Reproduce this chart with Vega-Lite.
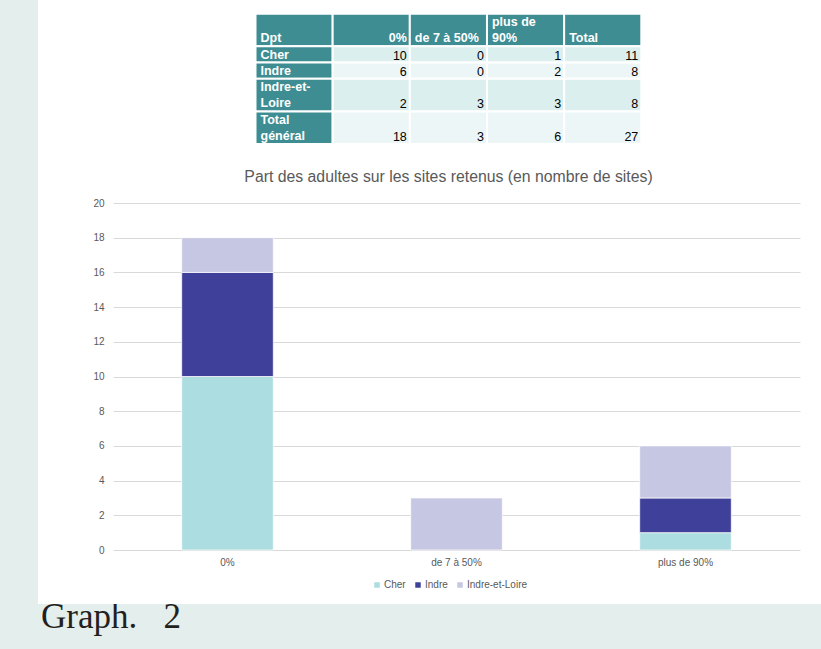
{
  "$schema": "https://vega.github.io/schema/vega-lite/v6.json",
  "background": "white",
  "padding": 0,
  "config": {
    "font": "Liberation Sans",
    "view": {"stroke": null}
  },
  "datasets": {
    "tableau": [
      {"ligne": "Dpt", "ordre": 0, "debut": 0, "fin": 2, "colonne": "Dpt", "type": "entete", "texte": "Dpt"},
      {"ligne": "Dpt", "ordre": 0, "debut": 0, "fin": 2, "colonne": "0%", "type": "entete", "texte": "0%"},
      {"ligne": "Dpt", "ordre": 0, "debut": 0, "fin": 2, "colonne": "de 7 à 50%", "type": "entete", "texte": "de 7 à 50%"},
      {"ligne": "Dpt", "ordre": 0, "debut": 0, "fin": 2, "colonne": "plus de 90%", "type": "entete", "texte": "plus de\n90%"},
      {"ligne": "Dpt", "ordre": 0, "debut": 0, "fin": 2, "colonne": "Total", "type": "entete", "texte": "Total"},
      {"ligne": "Cher", "ordre": 1, "debut": 2, "fin": 3, "colonne": "Dpt", "type": "libelle", "texte": "Cher"},
      {"ligne": "Cher", "ordre": 1, "debut": 2, "fin": 3, "colonne": "0%", "type": "valeur", "texte": "10"},
      {"ligne": "Cher", "ordre": 1, "debut": 2, "fin": 3, "colonne": "de 7 à 50%", "type": "valeur", "texte": "0"},
      {"ligne": "Cher", "ordre": 1, "debut": 2, "fin": 3, "colonne": "plus de 90%", "type": "valeur", "texte": "1"},
      {"ligne": "Cher", "ordre": 1, "debut": 2, "fin": 3, "colonne": "Total", "type": "valeur", "texte": "11"},
      {"ligne": "Indre", "ordre": 2, "debut": 3, "fin": 4, "colonne": "Dpt", "type": "libelle", "texte": "Indre"},
      {"ligne": "Indre", "ordre": 2, "debut": 3, "fin": 4, "colonne": "0%", "type": "valeur", "texte": "6"},
      {"ligne": "Indre", "ordre": 2, "debut": 3, "fin": 4, "colonne": "de 7 à 50%", "type": "valeur", "texte": "0"},
      {"ligne": "Indre", "ordre": 2, "debut": 3, "fin": 4, "colonne": "plus de 90%", "type": "valeur", "texte": "2"},
      {"ligne": "Indre", "ordre": 2, "debut": 3, "fin": 4, "colonne": "Total", "type": "valeur", "texte": "8"},
      {"ligne": "Indre-et-Loire", "ordre": 3, "debut": 4, "fin": 6, "colonne": "Dpt", "type": "libelle", "texte": "Indre-et-\nLoire"},
      {"ligne": "Indre-et-Loire", "ordre": 3, "debut": 4, "fin": 6, "colonne": "0%", "type": "valeur", "texte": "2"},
      {"ligne": "Indre-et-Loire", "ordre": 3, "debut": 4, "fin": 6, "colonne": "de 7 à 50%", "type": "valeur", "texte": "3"},
      {"ligne": "Indre-et-Loire", "ordre": 3, "debut": 4, "fin": 6, "colonne": "plus de 90%", "type": "valeur", "texte": "3"},
      {"ligne": "Indre-et-Loire", "ordre": 3, "debut": 4, "fin": 6, "colonne": "Total", "type": "valeur", "texte": "8"},
      {"ligne": "Total général", "ordre": 4, "debut": 6, "fin": 8, "colonne": "Dpt", "type": "libelle", "texte": "Total\ngénéral"},
      {"ligne": "Total général", "ordre": 4, "debut": 6, "fin": 8, "colonne": "0%", "type": "valeur", "texte": "18"},
      {"ligne": "Total général", "ordre": 4, "debut": 6, "fin": 8, "colonne": "de 7 à 50%", "type": "valeur", "texte": "3"},
      {"ligne": "Total général", "ordre": 4, "debut": 6, "fin": 8, "colonne": "plus de 90%", "type": "valeur", "texte": "6"},
      {"ligne": "Total général", "ordre": 4, "debut": 6, "fin": 8, "colonne": "Total", "type": "valeur", "texte": "27"}
    ],
    "sites": [
      {"part": "0%", "dpt": "Cher", "n": 10},
      {"part": "0%", "dpt": "Indre", "n": 6},
      {"part": "0%", "dpt": "Indre-et-Loire", "n": 2},
      {"part": "de 7 à 50%", "dpt": "Cher", "n": 0},
      {"part": "de 7 à 50%", "dpt": "Indre", "n": 0},
      {"part": "de 7 à 50%", "dpt": "Indre-et-Loire", "n": 3},
      {"part": "plus de 90%", "dpt": "Cher", "n": 1},
      {"part": "plus de 90%", "dpt": "Indre", "n": 2},
      {"part": "plus de 90%", "dpt": "Indre-et-Loire", "n": 3}
    ]
  },
  "spacing": 0,
  "resolve": {"legend": {"color": "independent"}},
  "vconcat": [
    {
      "spacing": 54,
      "resolve": {"legend": {"color": "independent"}},
      "hconcat": [
        {
          "width": 38,
          "height": 604,
          "view": {"fill": "#e4eeec", "stroke": null},
          "data": {"values": [{"vide": "."}]},
          "mark": {"type": "text", "opacity": 0},
          "encoding": {"text": {"field": "vide", "type": "nominal"}}
        },
        {
          "bounds": "flush",
          "center": true,
          "spacing": 59,
          "resolve": {"legend": {"color": "independent"}},
          "vconcat": [
            {
              "width": 402,
              "height": 144,
              "data": {"name": "tableau"},
              "layer": [
                {
                  "mark": {"type": "rect", "stroke": "white", "strokeWidth": 2},
                  "encoding": {
                    "x": {"field": "colonne", "type": "nominal", "scale": {"domain": ["Dpt", "0%", "de 7 à 50%", "plus de 90%", "Total"], "paddingInner": 0, "paddingOuter": 0.105, "align": 0}, "axis": null},
                    "y": {"field": "debut", "type": "quantitative", "scale": {"domain": [-0.84, 8], "reverse": true, "nice": false, "zero": false}, "axis": null},
                    "y2": {"field": "fin"},
                    "fill": {"condition": [{"test": "datum.type != 'valeur'", "value": "#3e8d92"}, {"test": "datum.ordre % 2 == 1", "value": "#dcefef"}], "value": "#edf6f6"}
                  }
                },
                {
                  "transform": [{"filter": "(datum.type == 'entete' && datum.colonne != '0%' && datum.colonne != 'plus de 90%') || (datum.type == 'libelle' && datum.fin - datum.debut == 1)"}],
                  "mark": {"type": "text", "align": "left", "baseline": "bottom", "dx": 5, "dy": -1, "fontSize": 12.5, "fontWeight": "bold", "color": "white"},
                  "encoding": {
                    "x": {"field": "colonne", "type": "nominal", "bandPosition": 0, "axis": null},
                    "y": {"field": "fin", "type": "quantitative", "axis": null},
                    "text": {"field": "texte", "type": "nominal"}
                  }
                },
                {
                  "transform": [{"filter": "(datum.type == 'entete' && datum.colonne == 'plus de 90%') || (datum.type == 'libelle' && datum.fin - datum.debut == 2)"}],
                  "mark": {"type": "text", "align": "left", "baseline": "bottom", "dx": 5, "dy": -17, "fontSize": 12.5, "fontWeight": "bold", "color": "white", "lineBreak": "\n", "lineHeight": 16},
                  "encoding": {
                    "x": {"field": "colonne", "type": "nominal", "bandPosition": 0, "axis": null},
                    "y": {"field": "fin", "type": "quantitative", "axis": null},
                    "text": {"field": "texte", "type": "nominal"}
                  }
                },
                {
                  "transform": [{"filter": "datum.type == 'entete' && datum.colonne == '0%'"}],
                  "mark": {"type": "text", "align": "right", "baseline": "bottom", "dx": -3, "dy": -1, "fontSize": 12.5, "fontWeight": "bold", "color": "white"},
                  "encoding": {
                    "x": {"field": "colonne", "type": "nominal", "bandPosition": 1, "axis": null},
                    "y": {"field": "fin", "type": "quantitative", "axis": null},
                    "text": {"field": "texte", "type": "nominal"}
                  }
                },
                {
                  "transform": [{"filter": "datum.type == 'valeur'"}],
                  "mark": {"type": "text", "align": "right", "baseline": "bottom", "dx": -3, "fontSize": 12.5, "color": "black"},
                  "encoding": {
                    "x": {"field": "colonne", "type": "nominal", "bandPosition": 1, "axis": null},
                    "y": {"field": "fin", "type": "quantitative", "axis": null},
                    "text": {"field": "texte", "type": "nominal"}
                  }
                }
              ]
            },
            {
              "width": 687,
              "height": 347,
              "data": {"name": "sites"},
              "transform": [{"filter": "datum.n > 0"}],
              "title": {"text": "Part des adultes sur les sites retenus (en nombre de sites)", "fontSize": 15.8, "fontWeight": "normal", "color": "#595959", "offset": 12, "dx": -8},
              "mark": {"type": "bar", "stroke": "white", "strokeWidth": 0.75},
              "encoding": {
                "x": {
                  "field": "part", "type": "nominal", "sort": ["0%", "de 7 à 50%", "plus de 90%"],
                  "scale": {"paddingInner": 0.6, "paddingOuter": 0.3},
                  "axis": {"title": null, "labelAngle": 0, "ticks": false, "domain": false, "labelFontSize": 10, "labelColor": "#595959", "labelPadding": 7}
                },
                "y": {
                  "field": "n", "type": "quantitative",
                  "scale": {"domain": [0, 20], "nice": false},
                  "axis": {"title": null, "values": [0, 2, 4, 6, 8, 10, 12, 14, 16, 18, 20], "grid": true, "gridColor": "#d9d9d9", "domain": false, "ticks": false, "labelPadding": 9, "labelFontSize": 10, "labelColor": "#595959"}
                },
                "color": {
                  "field": "dpt", "type": "nominal",
                  "scale": {"domain": ["Cher", "Indre", "Indre-et-Loire"], "range": ["#acdde0", "#3f4099", "#c6c7e3"]},
                  "legend": {"title": null, "orient": "none", "legendX": 259, "legendY": 377, "direction": "horizontal", "symbolType": "square", "symbolSize": 30, "symbolStrokeWidth": 0, "labelFontSize": 10, "labelColor": "#595959", "columnPadding": 7, "labelOffset": 2}
                },
                "order": {"field": "dpt", "type": "nominal", "sort": "ascending"}
              }
            }
          ]
        }
      ]
    },
    {
      "width": 821,
      "height": 45,
      "view": {"fill": "#e4eeec", "stroke": null},
      "data": {"values": [{"legende": "Graph.\u00a0\u00a0\u00a02"}]},
      "mark": {"type": "text", "clip": true, "align": "left", "baseline": "alphabetic", "font": "Liberation Serif", "fontSize": 35, "color": "#231f20", "dx": 41, "dy": 1},
      "encoding": {
        "x": {"datum": 0, "type": "quantitative", "scale": {"domain": [0, 1]}, "axis": null},
        "text": {"field": "legende", "type": "nominal"}
      }
    }
  ]
}
